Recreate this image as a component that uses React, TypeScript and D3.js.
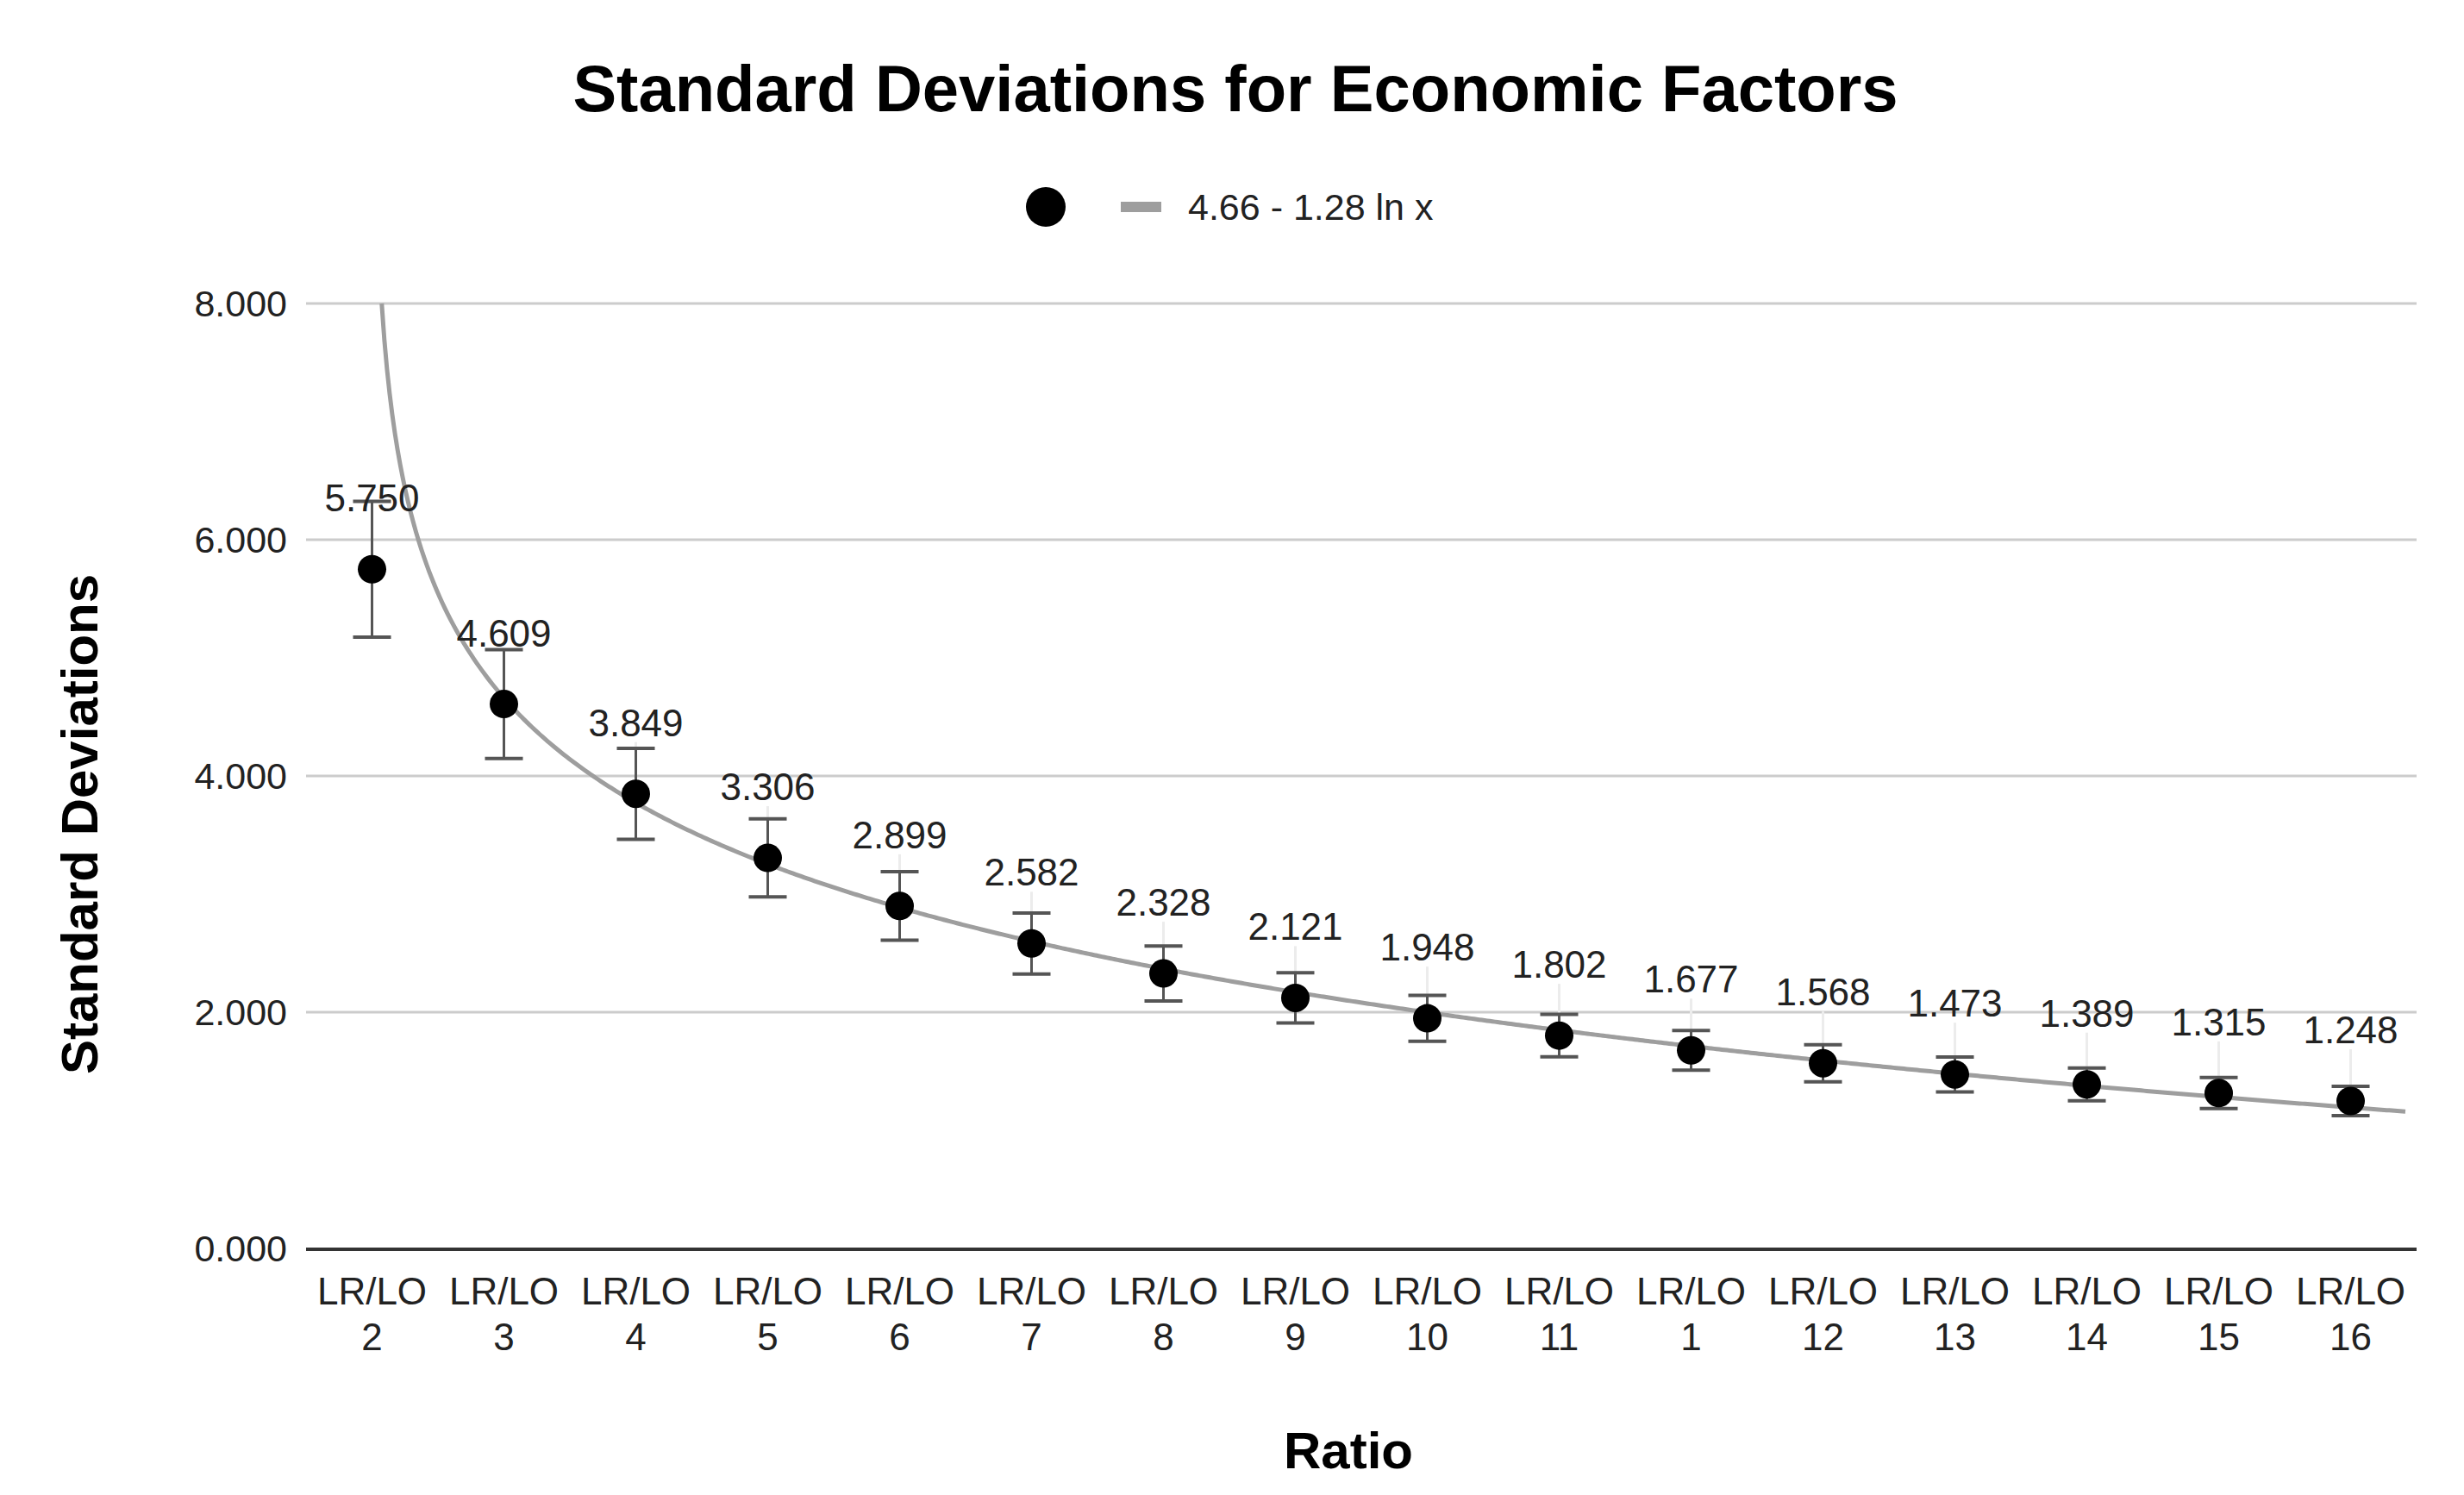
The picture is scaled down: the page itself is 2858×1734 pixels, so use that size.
import React from "react";
import * as d3 from "d3";

// ratios in the order they appear on the x axis
const categories = [
  "LR/LO 2", "LR/LO 3", "LR/LO 4", "LR/LO 5", "LR/LO 6", "LR/LO 7", "LR/LO 8", "LR/LO 9",
  "LR/LO 10", "LR/LO 11", "LR/LO 1", "LR/LO 12", "LR/LO 13", "LR/LO 14", "LR/LO 15", "LR/LO 16",
];
const stdDevs = [
  5.75, 4.609, 3.849, 3.306, 2.899, 2.582, 2.328, 2.121,
  1.948, 1.802, 1.677, 1.568, 1.473, 1.389, 1.315, 1.248,
];
const yTicks = [0, 2, 4, 6, 8];

// error bars are a percentage of each value
const errorPercent = 10;

// logarithmic trendline: a - b ln x (x = category index)
const trendA = 4.66;
const trendB = 1.28;
const trendLabel = "4.66 - 1.28 ln x";

const W = 2858;
const H = 1734;
const margin = { top: 352, right: 55, bottom: 286, left: 355 };
const font = "'Liberation Sans', Arial, sans-serif";

const App: React.FC = () => {
  const x = d3
    .scaleBand<string>()
    .domain(categories)
    .range([margin.left, W - margin.right])
    .padding(0);
  const y = d3
    .scaleLinear()
    .domain([0, 8])
    .range([H - margin.bottom, margin.top]);
  const bw = x.bandwidth();
  const cx = (c: string) => (x(c) as number) + bw / 2;

  // trendline runs in index space from the first category centre
  const tx = d3
    .scaleLinear()
    .domain([0, 1])
    .range([cx(categories[0]), cx(categories[0]) + bw]);
  const tEnd = tx.invert(W - margin.right - 13);
  const tStart = Math.exp((trendA - 8) / trendB);
  const tSamples = d3.range(tStart, tEnd, 0.02).concat([tEnd]);
  const trendPath = d3
    .line<number>()
    .x((t) => tx(t))
    .y((t) => y(trendA - trendB * Math.log(t)))(tSamples);

  const data = categories.map((c, i) => {
    const v = stdDevs[i];
    const e = (v * errorPercent) / 100;
    return { c, v, lo: v - e, hi: v + e };
  });

  return (
    <svg
      width={W}
      height={H}
      style={{ position: "absolute", left: 0, top: 0, background: "#fff" }}
      fontFamily={font}
    >
      <rect width={W} height={H} fill="#fff" />
      <defs>
        <clipPath id="plot">
          <rect x={margin.left} y={margin.top - 2} width={W - margin.left - margin.right} height={H - margin.top - margin.bottom + 2} />
        </clipPath>
      </defs>

      {/* title */}
      <text x={W / 2 + 4} y={129} textAnchor="middle" fontSize={76} fontWeight="bold" fill="#000">
        Standard Deviations for Economic Factors
      </text>

      {/* legend */}
      <g>
        <circle cx={1213} cy={240} r={23} fill="#000" />
        <line x1={1300} x2={1347} y1={240} y2={240} stroke="#9e9e9e" strokeWidth={12} />
        <text x={1378} y={255} fontSize={43} fill="#222">
          {trendLabel}
        </text>
      </g>

      {/* gridlines + y ticks */}
      {yTicks.map((t) => (
        <g key={t}>
          {t > 0 && (
            <line x1={margin.left} x2={W - margin.right} y1={y(t)} y2={y(t)} stroke="#cccccc" strokeWidth={3} />
          )}
          <text x={333} y={y(t) + 15} textAnchor="end" fontSize={43} fill="#222">
            {d3.format(".3f")(t)}
          </text>
        </g>
      ))}
      <line
        x1={margin.left}
        x2={W - margin.right}
        y1={y(0) + 1}
        y2={y(0) + 1}
        stroke="#333"
        strokeWidth={4}
      />

      {/* x tick labels */}
      {categories.map((c) => {
        const [a, b] = c.split(" ");
        return (
          <text key={c} x={cx(c)} textAnchor="middle" fontSize={44} fill="#222">
            <tspan x={cx(c)} y={1513}>{a}</tspan>
            <tspan x={cx(c)} y={1566}>{b}</tspan>
          </text>
        );
      })}

      {/* axis titles */}
      <text x={1564} y={1703} textAnchor="middle" fontSize={60} fontWeight="bold" fill="#000">
        Ratio
      </text>
      <text
        transform={`translate(113, 956) rotate(-90)`}
        textAnchor="middle"
        fontSize={60}
        fontWeight="bold"
        fill="#000"
      >
        Standard Deviations
      </text>

      {/* faint leader lines between labels and error bars */}
      {data.map((d) =>
        y(d.hi) > y(d.v) - 60 ? (
          <line
            key={"lead" + d.c}
            x1={cx(d.c)}
            x2={cx(d.c)}
            y1={y(d.v) - 60}
            y2={y(d.hi)}
            stroke="#ececec"
            strokeWidth={3}
          />
        ) : null
      )}

      {/* trendline */}
      <path d={trendPath ?? ""} fill="none" stroke="#9e9e9e" strokeWidth={5} clipPath="url(#plot)" />

      {/* error bars */}
      {data.map((d) => (
        <g key={"err" + d.c} stroke="#555" strokeWidth={3}>
          <line x1={cx(d.c)} x2={cx(d.c)} y1={y(d.lo)} y2={y(d.hi)} />
          <line x1={cx(d.c) - 22} x2={cx(d.c) + 22} y1={y(d.hi)} y2={y(d.hi)} strokeWidth={4} />
          <line x1={cx(d.c) - 22} x2={cx(d.c) + 22} y1={y(d.lo)} y2={y(d.lo)} strokeWidth={4} />
        </g>
      ))}

      {/* points */}
      {data.map((d) => (
        <circle key={"pt" + d.c} cx={cx(d.c)} cy={y(d.v)} r={16.5} fill="#000" />
      ))}

      {/* data labels */}
      {data.map((d) => (
        <text key={"lab" + d.c} x={cx(d.c)} y={y(d.v) - 67} textAnchor="middle" fontSize={44} fill="#222">
          {d3.format(".3f")(d.v)}
        </text>
      ))}
    </svg>
  );
};

export default App;
